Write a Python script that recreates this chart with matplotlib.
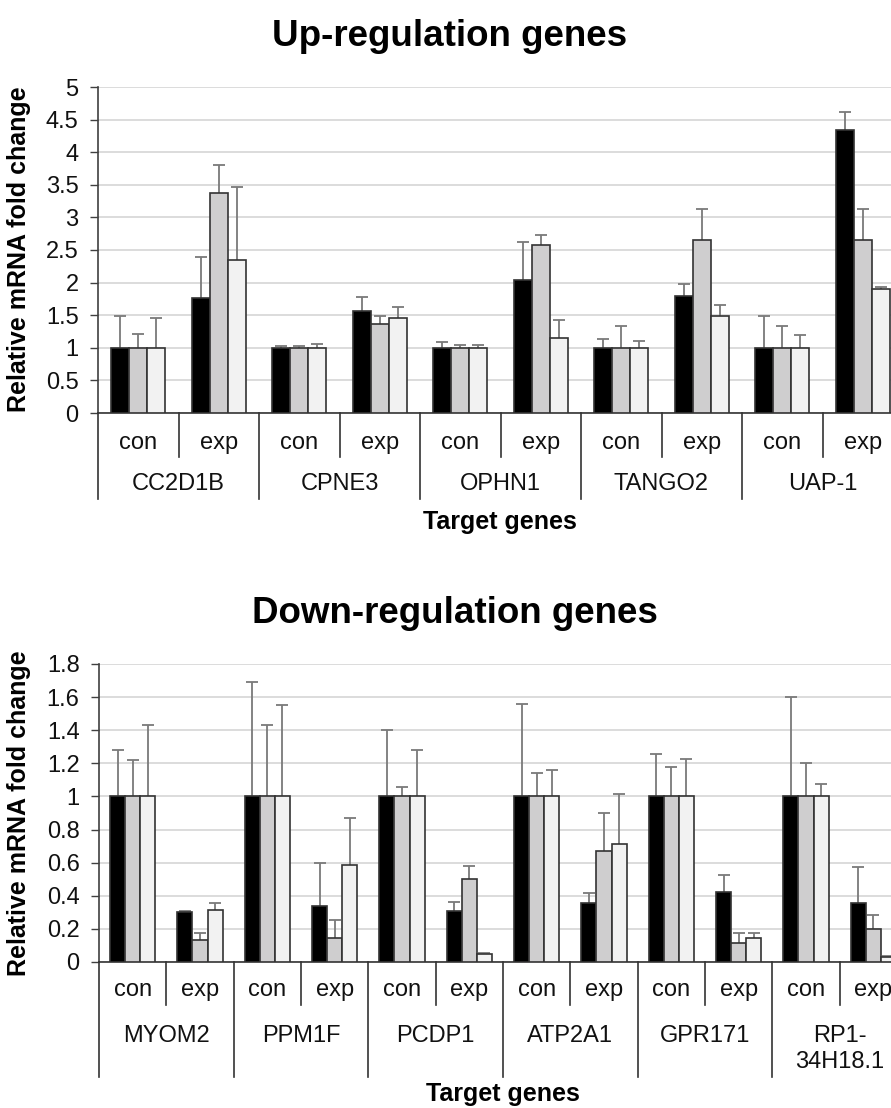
import matplotlib
matplotlib.use("Agg")
import matplotlib.pyplot as plt
from matplotlib.ticker import FuncFormatter, MultipleLocator
import numpy as np

plt.rcParams['font.family'] = ['Liberation Sans', 'DejaVu Sans']

# ---------------- data ----------------
conditions = ["con", "exp"]

up_genes = ["CC2D1B", "CPNE3", "OPHN1", "TANGO2", "UAP-1"]
# order: gene1 con, gene1 exp, gene2 con, ...
up_black = [1.00, 1.77, 1.00, 1.57, 1.00, 2.04, 1.00, 1.80, 1.00, 4.34]
up_black_err = [0.49, 0.62, 0.03, 0.21, 0.09, 0.59, 0.13, 0.18, 0.49, 0.28]
up_gray = [1.00, 3.38, 1.00, 1.37, 1.00, 2.57, 1.00, 2.66, 1.00, 2.66]
up_gray_err = [0.21, 0.43, 0.03, 0.12, 0.05, 0.16, 0.33, 0.47, 0.33, 0.47]
up_light = [1.00, 2.34, 1.00, 1.45, 1.00, 1.15, 1.00, 1.49, 1.00, 1.90]
up_light_err = [0.45, 1.12, 0.055, 0.17, 0.05, 0.28, 0.11, 0.17, 0.19, 0.04]

down_genes = ["MYOM2", "PPM1F", "PCDP1", "ATP2A1", "GPR171", "RP1-\n34H18.1"]
down_black = [1.00, 0.304, 1.00, 0.34, 1.00, 0.31, 1.00, 0.356, 1.00, 0.424, 1.00, 0.356]
down_black_err = [0.283, 0.006, 0.69, 0.255, 0.40, 0.052, 0.56, 0.06, 0.259, 0.10, 0.60, 0.215]
down_gray = [1.00, 0.13, 1.00, 0.145, 1.00, 0.50, 1.00, 0.672, 1.00, 0.115, 1.00, 0.201]
down_gray_err = [0.22, 0.045, 0.43, 0.108, 0.058, 0.077, 0.142, 0.225, 0.175, 0.062, 0.205, 0.085]
down_light = [1.00, 0.316, 1.00, 0.585, 1.00, 0.048, 1.00, 0.71, 1.00, 0.145, 1.00, 0.028]
down_light_err = [0.43, 0.038, 0.55, 0.285, 0.283, 0.004, 0.158, 0.302, 0.229, 0.032, 0.074, 0.006]

bar_colors = ['#000000', '#cfcecf', '#f2f2f2']

# ---------------- figure ----------------
W, H = 891, 1108
fig = plt.figure(figsize=(W / 100, H / 100), dpi=100)


def px_axes(left, top, right, bottom):
    return fig.add_axes([left / W, 1 - bottom / H, (right - left) / W, (bottom - top) / H])


def draw(ax, genes, series, errs, ymax, ystep, ax_h_px,
         sub_drop, grp_drop, lab1_off, lab2_off, bar_w=0.223):
    n = len(genes) * 2
    x = np.arange(n) + 0.5
    for k, (vals, err, c) in enumerate(zip(series, errs, bar_colors)):
        xs = x + (k - 1) * bar_w
        ax.bar(xs, vals, width=bar_w, color=c, edgecolor='#333333',
               linewidth=1.2, zorder=3)
        eb = ax.errorbar(xs, vals, yerr=[np.zeros(n), err], fmt='none',
                         ecolor='#7a7a7a', elinewidth=1.3, capsize=4,
                         capthick=1.3, zorder=2)
        eb[1][0].set_visible(False)

    ax.set_xlim(0, n)
    ax.set_ylim(0, ymax)
    ax.yaxis.set_major_locator(MultipleLocator(ystep))
    ax.yaxis.set_major_formatter(FuncFormatter(lambda v, p: f"{v:g}"))
    ax.set_xticks([])
    ax.yaxis.grid(True, color='#d9d9d9', linewidth=1.3)
    ax.set_axisbelow(True)
    for s in ['top', 'right']:
        ax.spines[s].set_visible(False)
    ax.spines['left'].set_color('#404040')
    ax.spines['left'].set_linewidth(1.2)
    ax.spines['bottom'].set_color('#333333')
    ax.spines['bottom'].set_linewidth(1.2)
    ax.tick_params(axis='y', direction='out', length=6, width=1.0,
                   color='#404040', labelsize=17, pad=8, labelcolor='#111111')

    tr = ax.get_xaxis_transform()
    for i in range(n + 1):
        drop = grp_drop if i % 2 == 0 else sub_drop
        ax.plot([i, i], [0, -drop / ax_h_px], transform=tr, clip_on=False,
                color='#333333', linewidth=1.2)
    for i in range(n):
        ax.text(x[i], -lab1_off / ax_h_px, conditions[i % 2], transform=tr,
                ha='center', va='center', fontsize=17, color='#111111')
    for g, name in enumerate(genes):
        ax.text(2 * g + 1, -lab2_off / ax_h_px, name, transform=tr,
                ha='center', va='top', fontsize=17, color='#111111',
                linespacing=1.25)


# ---- top chart ----
ax1 = px_axes(98, 87, 903, 413)
draw(ax1, up_genes, [up_black, up_gray, up_light],
     [up_black_err, up_gray_err, up_light_err], 5, 0.5, 326,
     44, 86, 30, 60)

# ---- bottom chart ----
ax2 = px_axes(99, 664, 907, 962)
draw(ax2, down_genes, [down_black, down_gray, down_light],
     [down_black_err, down_gray_err, down_light_err], 1.8, 0.2, 298,
     43, 115, 28, 63)

# titles and axis titles
fig.text(450 / W, 1 - 46 / H, "Up-regulation genes", ha='center', va='baseline',
         fontsize=26.5, fontweight='bold')
fig.text(455 / W, 1 - 623 / H, "Down-regulation genes", ha='center', va='baseline',
         fontsize=26.5, fontweight='bold')
fig.text(500 / W, 1 - 529 / H, "Target genes", ha='center', va='baseline',
         fontsize=18, fontweight='bold')
fig.text(503 / W, 1 - 1101 / H, "Target genes", ha='center', va='baseline',
         fontsize=18, fontweight='bold')
fig.text(19 / W, 1 - 249 / H, "Relative mRNA fold change", ha='center', va='center',
         rotation=90, fontsize=18, fontweight='bold')
fig.text(19 / W, 1 - 813 / H, "Relative mRNA fold change", ha='center', va='center',
         rotation=90, fontsize=18, fontweight='bold')

fig.savefig("out.png", dpi=100)
